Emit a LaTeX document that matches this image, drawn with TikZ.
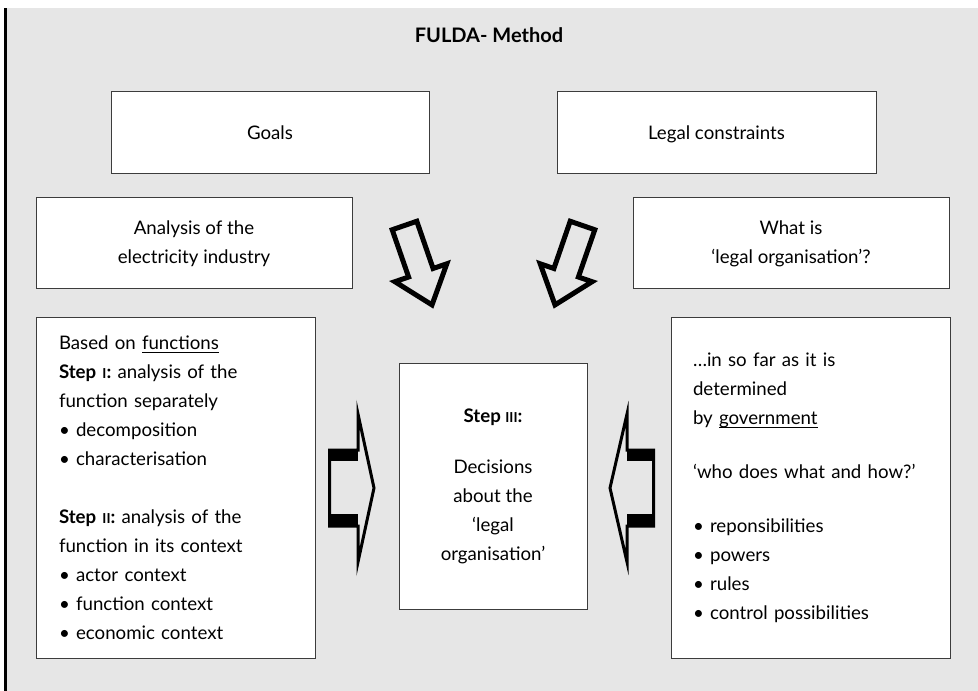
\documentclass[tikz,border=0pt]{standalone}
\usepackage{fontspec}
\setmainfont{Lato}
\definecolor{panel}{RGB}{230,230,230}
\definecolor{rim}{RGB}{60,60,60}
\newcommand\boxfont{\fontsize{14pt}{21.75pt}\selectfont}
\newcommand\scI[1]{{\fontsize{10.3pt}{21.75pt}\selectfont #1}}
\newcommand\ulin[1]{\setbox0\hbox{#1}\rlap{\rule[-2.4pt]{\wd0}{0.5pt}}\box0}
\begin{document}
\begin{tikzpicture}[x=0.75pt,y=-0.75pt,
  box/.style={draw=rim, line width=0.75pt, fill=white, inner sep=0pt,
    font=\boxfont, align=center},
  onelinebox/.style={box, text height=1.9ex, text depth=0pt},
  textbox/.style={box, align=left, text width=233*0.75pt, inner xsep=23*0.75pt},
  downarrow/.style={draw=black, line width=3.75pt, line join=miter},
  sidearrow/.style={draw=black, line width=2.25pt, line join=miter, miter limit=12},
  bar/.style={fill=black}
]
\useasboundingbox (0,0) rectangle (978,691);

% panel and its left rule
\fill[panel] (6,8) rectangle (978,691);
\fill[black] (3.5,8) rectangle (6.5,691);

% title
\node[font=\fontsize{15pt}{18pt}\selectfont\bfseries] (title) at (489,35) {FULDA- Method};

% upper boxes
\node[onelinebox, minimum width=318*0.75pt, minimum height=82*0.75pt] (goals) at (270,133) {Goals};
\node[onelinebox, minimum width=319*0.75pt, minimum height=82*0.75pt] (legal) at (716.5,133) {Legal constraints};
\node[box, minimum width=316*0.75pt, minimum height=91*0.75pt] (analysis) at (194,243.5)
  {Analysis of the\\electricity industry};
\node[box, minimum width=316*0.75pt, minimum height=91*0.75pt] (whatis) at (791,243.5)
  {What is\\‘legal organisation’?};

% left analysis box
\node[textbox, minimum height=340*0.75pt] (functions) at (175.5,488) {%
  Based on \ulin{functions}\\
  \textbf{Step \scI{I}:} analysis of the\\
  function separately\\
  • decomposition\\
  • characterisation\\[21.75pt]
  \textbf{Step \scI{II}:} analysis of the\\
  function in its context\\
  • actor context\\
  • function context\\
  • economic context};

% right government box
\node[textbox, inner xsep=22*0.75pt, text width=235*0.75pt, minimum height=340*0.75pt] (government) at (810.5,488) {%
  …in so far as it is\\
  determined\\
  by \ulin{government}\\[18.75pt]
  ‘who does what and how?’\\[18.75pt]
  • reponsibilities\\
  • powers\\
  • rules\\
  • control possibilities};

% central decision box
\node[box, minimum width=188*0.75pt, minimum height=245*0.75pt] (decisions) at (493,486.5) {%
  \textbf{Step \scI{III}:}\\[17pt]
  Decisions\\
  about the\\
  ‘legal\\
  organisation’};

% block arrows from the upper boxes
\draw[downarrow] (392.2,229.75) -- (416.8,221.25) -- (433.1,268.5) -- (446.8,263.8)
  -- (432.0,304.9) -- (394.9,281.7) -- (408.6,277.0) -- cycle;
\draw[downarrow] (594.8,229.75) -- (570.2,221.25) -- (553.9,268.5) -- (540.2,263.8)
  -- (555.0,304.9) -- (592.1,281.7) -- (578.4,277.0) -- cycle;

% block arrows from the side boxes
\fill[bar] (328,449) rectangle (358,461);
\fill[bar] (328,514) rectangle (358,526);
\draw[sidearrow] (329.5,450) -- (358,450) -- (358,414) -- (374,488) -- (358,562)
  -- (358,526) -- (329.5,526) -- cycle;
\fill[bar] (627,449) rectangle (655,461);
\fill[bar] (627,514) rectangle (655,526);
\draw[sidearrow] (653.5,450) -- (627,450) -- (627,414) -- (610,488) -- (627,562)
  -- (627,526) -- (653.5,526) -- cycle;
\end{tikzpicture}
\end{document}
